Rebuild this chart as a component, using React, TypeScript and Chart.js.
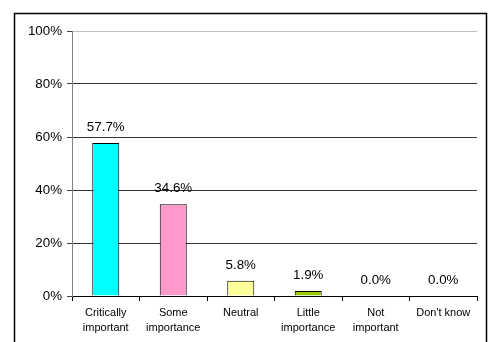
import React, { useEffect, useRef } from "react";
import { Chart, registerables } from "chart.js";

Chart.register(...registerables);

const categories: (string | string[])[] = [
  ["Critically", "important"],
  ["Some", "importance"],
  "Neutral",
  ["Little", "importance"],
  ["Not", "important"],
  "Don't know",
];
const values: number[] = [57.7, 34.6, 5.8, 1.9, 0.0, 0.0];
const barColors: string[] = ["#00FFFF", "#FF99CC", "#FFFF99", "#99CC00", "#FFFFFF", "#FFFFFF"];
const yTicks: number[] = [0, 20, 40, 60, 80, 100];

const FONT = "'Liberation Sans', Arial, sans-serif";

const labelPlugin = {
  id: "valueLabels",
  afterDatasetsDraw(chart: any) {
    const ctx = chart.ctx;
    const meta = chart.getDatasetMeta(0);
    ctx.save();
    ctx.font = `13.33px ${FONT}`;
    ctx.fillStyle = "#000";
    ctx.textAlign = "center";
    ctx.textBaseline = "middle";
    meta.data.forEach((bar: any, i: number) => {
      ctx.fillText(values[i].toFixed(1) + "%", bar.x, bar.y - 15.5);
    });
    ctx.restore();
  },
  afterDraw(chart: any) {
    const ctx = chart.ctx;
    ctx.save();
    ctx.strokeStyle = "#000";
    ctx.lineWidth = 1.5;
    ctx.strokeRect(14.5, 13.5, 472, 400);
    ctx.restore();
  },
};

export default function App() {
  const ref = useRef<HTMLCanvasElement>(null);
  useEffect(() => {
    if (!ref.current) return;
    const chart = new Chart(ref.current, {
      type: "bar",
      data: {
        labels: categories,
        datasets: [
          {
            data: values,
            backgroundColor: barColors,
            borderColor: "#000",
            borderWidth: 1,
            barPercentage: 0.4,
            categoryPercentage: 1,
          },
        ],
      },
      options: {
        animation: false,
        responsive: false,
        maintainAspectRatio: false,
        layout: { padding: { left: 0, right: 11, top: 31, bottom: 0 } },
        plugins: { legend: { display: false }, tooltip: { enabled: false } },
        scales: {
          x: {
            afterFit: (s: any) => {
              s.height = 46;
            },
            grid: {
              drawOnChartArea: false,
              drawTicks: true,
              tickLength: 5,
              tickColor: "#000",
              offset: true,
            },
            border: { color: "#000", width: 1 },
            ticks: {
              color: "#000",
              font: { family: FONT, size: 11, lineHeight: 1.4 },
              padding: 4,
              maxRotation: 0,
              autoSkip: false,
            },
          },
          y: {
            min: 0,
            max: 100,
            afterFit: (s: any) => {
              s.width = 72;
            },
            afterBuildTicks: (s: any) => {
              s.ticks = yTicks.map((v) => ({ value: v }));
            },
            grid: {
              color: (c: any) => (c.tick && c.tick.value === 100 ? "#C0C0C0" : "#333"),
              tickColor: "#444",
              tickLength: 5,
              drawTicks: true,
            },
            border: { color: "#808080", width: 1 },
            ticks: {
              color: "#000",
              font: { family: FONT, size: 13.33 },
              padding: 5,
              callback: (v: any) => v + "%",
            },
          },
        },
      },
      plugins: [labelPlugin],
    });
    return () => chart.destroy();
  }, []);
  return (
    <div
      style={{
        position: "fixed",
        left: 0,
        top: 0,
        width: 488,
        height: 342,
        overflow: "hidden",
        background: "#fff",
      }}
    >
      <canvas ref={ref} width={488} height={342} style={{ width: 488, height: 342, display: "block" }} />
    </div>
  );
}
